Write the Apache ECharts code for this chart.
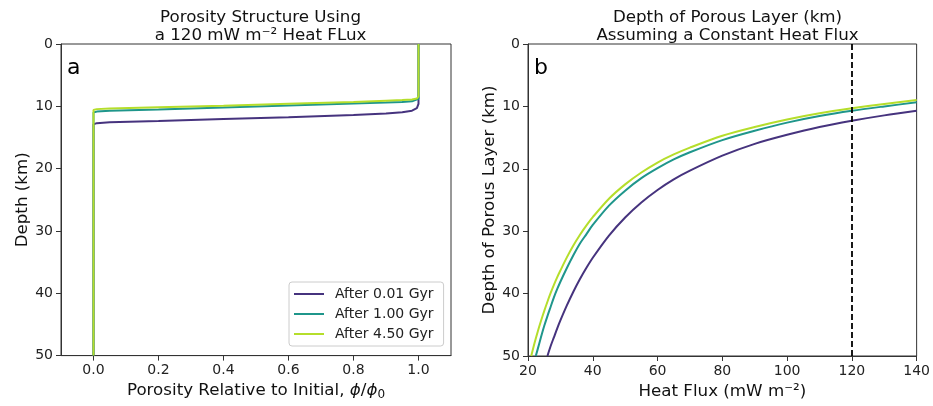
<!DOCTYPE html>
<html>
<head>
<meta charset="utf-8">
<script src="https://cdn.jsdelivr.net/npm/echarts@6/dist/echarts.min.js"></script>
<style>html,body{margin:0;padding:0;background:#fff;}#c{width:933px;height:406px;}</style>
</head>
<body>
<div id="c"></div>
<script>
// ---- Panel a: porosity structure (phi/phi0 vs depth, km) ----
const seriesNames = ['After 0.01 Gyr', 'After 1.00 Gyr', 'After 4.50 Gyr'];
const porosity = [1, 1, 0.995, 0.98, 0.95, 0.9, 0.8, 0.6, 0.4, 0.2, 0.05, 0.01, 0, 0];
const depthA_001 = [0, 9.6, 10.3, 10.7, 10.95, 11.15, 11.4, 11.75, 12.05, 12.35, 12.55, 12.7, 12.9, 50];
const depthA_100 = [0, 8.8, 9.1, 9.2, 9.3, 9.4, 9.55, 9.85, 10.2, 10.5, 10.7, 10.85, 11.0, 50];
const depthA_450 = [0, 8.4, 8.75, 8.9, 9.0, 9.1, 9.3, 9.6, 9.9, 10.15, 10.35, 10.45, 10.6, 50];

// ---- Panel b: depth of porous layer vs heat flux ----
const flux_001 = [26, 27, 28, 29, 30, 32, 34, 36, 38, 40, 45, 50, 55, 60, 65, 70, 80, 90, 100, 110, 120, 130, 140];
const depthB_001 = [50.0, 48.4, 47.0, 45.6, 44.3, 41.9, 39.7, 37.7, 35.9, 34.25, 30.7, 27.8, 25.4, 23.4, 21.7, 20.3, 17.9, 16.0, 14.55, 13.3, 12.3, 11.44, 10.7];
const flux_100 = [22.4, 23, 24, 25, 26, 27, 28, 29, 30, 32, 34, 36, 38, 40, 45, 50, 55, 60, 65, 70, 80, 90, 100, 110, 120, 130, 140];
const depthB_100 = [50.0, 48.9, 47.0, 45.2, 43.6, 42.1, 40.6, 39.3, 38.1, 35.9, 33.85, 32.0, 30.5, 29.0, 25.9, 23.5, 21.5, 19.9, 18.5, 17.35, 15.4, 13.9, 12.6, 11.55, 10.7, 10.0, 9.35];
const flux_450 = [21, 22, 23, 24, 25, 26, 27, 28, 29, 30, 32, 34, 36, 38, 40, 45, 50, 55, 60, 65, 70, 80, 90, 100, 110, 120, 130, 140];
const depthB_450 = [50.0, 47.95, 46.1, 44.4, 42.8, 41.3, 39.9, 38.6, 37.4, 36.3, 34.2, 32.3, 30.6, 29.1, 27.75, 24.8, 22.5, 20.6, 19.0, 17.7, 16.6, 14.7, 13.3, 12.1, 11.1, 10.3, 9.6, 8.97];
const referenceFlux = 120;

const xTicksA = [0, 0.2, 0.4, 0.6, 0.8, 1.0];
const colors = ['#46337e', '#1f968b', '#b5de2b'];

const zip = (xs, ys) => xs.map((x, i) => [x, ys[i]]);
const FONT = 'DejaVu Sans';
const axisCommon = {
  axisLine: {show: true, onZero: false, lineStyle: {color: '#333', width: 1}},
  axisTick: {show: true, inside: false, length: 5, lineStyle: {color: '#333', width: 1}},
  axisLabel: {color: '#222', fontSize: 14, fontFamily: FONT, margin: 8},
  splitLine: {show: false},
  nameTextStyle: {color: '#111', fontSize: 16.7, fontFamily: FONT}
};

const option = {
  animation: false,
  backgroundColor: '#fff',
  textStyle: {fontFamily: FONT},
  title: [
    {text: 'Porosity Structure Using\na 120 mW m\u207B\u00B2 Heat FLux', left: 255.5, top: 3, textAlign: 'center',
     textStyle: {fontSize: 16.7, lineHeight: 18.5, fontWeight: 'normal', color: '#111', fontFamily: FONT}},
    {text: 'Depth of Porous Layer (km)\nAssuming a Constant Heat Flux', left: 722.5, top: 3, textAlign: 'center',
     textStyle: {fontSize: 16.7, lineHeight: 18.5, fontWeight: 'normal', color: '#111', fontFamily: FONT}}
  ],
  graphic: [
    {type: 'text', left: 67, top: 57, style: {text: 'a', fontSize: 22, fontFamily: FONT, fill: '#000'}},
    {type: 'text', left: 534, top: 57, style: {text: 'b', fontSize: 22, fontFamily: FONT, fill: '#000'}}
  ],
  grid: [
    {left: 61, top: 44, width: 390, height: 312, show: true, borderColor: '#333', borderWidth: 1, backgroundColor: 'transparent'},
    {left: 528, top: 44, width: 389, height: 312, show: true, borderColor: '#333', borderWidth: 1, backgroundColor: 'transparent'}
  ],
  legend: {
    data: seriesNames.map(n => ({name: n, icon: 'rect'})),
    left: 289, top: 282,
    orient: 'vertical',
    backgroundColor: 'rgba(255,255,255,0.85)',
    borderColor: '#cccccc', borderWidth: 1, borderRadius: 3,
    padding: [5, 10, 5, 5],
    itemWidth: 30, itemHeight: 2, itemGap: 6,
    textStyle: {fontSize: 14, lineHeight: 14, color: '#222', fontFamily: FONT, padding: [0, 0, 0, 6]}
  },
  xAxis: [
    Object.assign({}, axisCommon, {
      type: 'value', gridIndex: 0, min: -0.1, max: 1.1,
      axisTick: Object.assign({}, axisCommon.axisTick, {customValues: xTicksA}),
      axisLabel: Object.assign({}, axisCommon.axisLabel, {customValues: xTicksA, formatter: v => v.toFixed(1)}),
      name: '{t|Porosity Relative to Initial, }{i|\u03D5}{t|/}{i|\u03D5}{s|0}',
      nameLocation: 'middle', nameGap: 24,
      nameTextStyle: {rich: {
        t: {fontSize: 16.7, fontFamily: FONT, color: '#111'},
        i: {fontSize: 16.7, fontFamily: FONT, fontStyle: 'italic', color: '#111'},
        s: {fontSize: 12, fontFamily: FONT, color: '#111', padding: [8, 0, 0, 0]}
      }}
    }),
    Object.assign({}, axisCommon, {
      type: 'value', gridIndex: 1, min: 20, max: 140, interval: 20,
      name: 'Heat Flux (mW m\u207B\u00B2)', nameLocation: 'middle', nameGap: 24
    })
  ],
  yAxis: [
    Object.assign({}, axisCommon, {
      type: 'value', gridIndex: 0, min: 0, max: 50, interval: 10, inverse: true,
      name: 'Depth (km)', nameLocation: 'middle', nameGap: 30
    }),
    Object.assign({}, axisCommon, {
      type: 'value', gridIndex: 1, min: 0, max: 50, interval: 10, inverse: true,
      name: 'Depth of Porous Layer (km)', nameLocation: 'middle', nameGap: 29
    })
  ],
  series: [
    {name: seriesNames[0], type: 'line', xAxisIndex: 0, yAxisIndex: 0, symbol: 'none', color: colors[0], lineStyle: {width: 2}, data: zip(porosity, depthA_001)},
    {name: seriesNames[1], type: 'line', xAxisIndex: 0, yAxisIndex: 0, symbol: 'none', color: colors[1], lineStyle: {width: 2}, data: zip(porosity, depthA_100)},
    {name: seriesNames[2], type: 'line', xAxisIndex: 0, yAxisIndex: 0, symbol: 'none', color: colors[2], lineStyle: {width: 2}, data: zip(porosity, depthA_450)},
    {name: seriesNames[0], type: 'line', xAxisIndex: 1, yAxisIndex: 1, symbol: 'none', smooth: 0.3, color: colors[0], lineStyle: {width: 2}, data: zip(flux_001, depthB_001),
     markLine: {silent: true, symbol: 'none', label: {show: false}, lineStyle: {color: '#000', type: [6, 3], width: 1.8}, data: [{xAxis: referenceFlux}]}},
    {name: seriesNames[1], type: 'line', xAxisIndex: 1, yAxisIndex: 1, symbol: 'none', smooth: 0.3, color: colors[1], lineStyle: {width: 2}, data: zip(flux_100, depthB_100)},
    {name: seriesNames[2], type: 'line', xAxisIndex: 1, yAxisIndex: 1, symbol: 'none', smooth: 0.3, color: colors[2], lineStyle: {width: 2}, data: zip(flux_450, depthB_450)}
  ]
};
const chart = echarts.init(document.getElementById('c'), null, {renderer: 'canvas'});
chart.setOption(option);
</script>
</body>
</html>
